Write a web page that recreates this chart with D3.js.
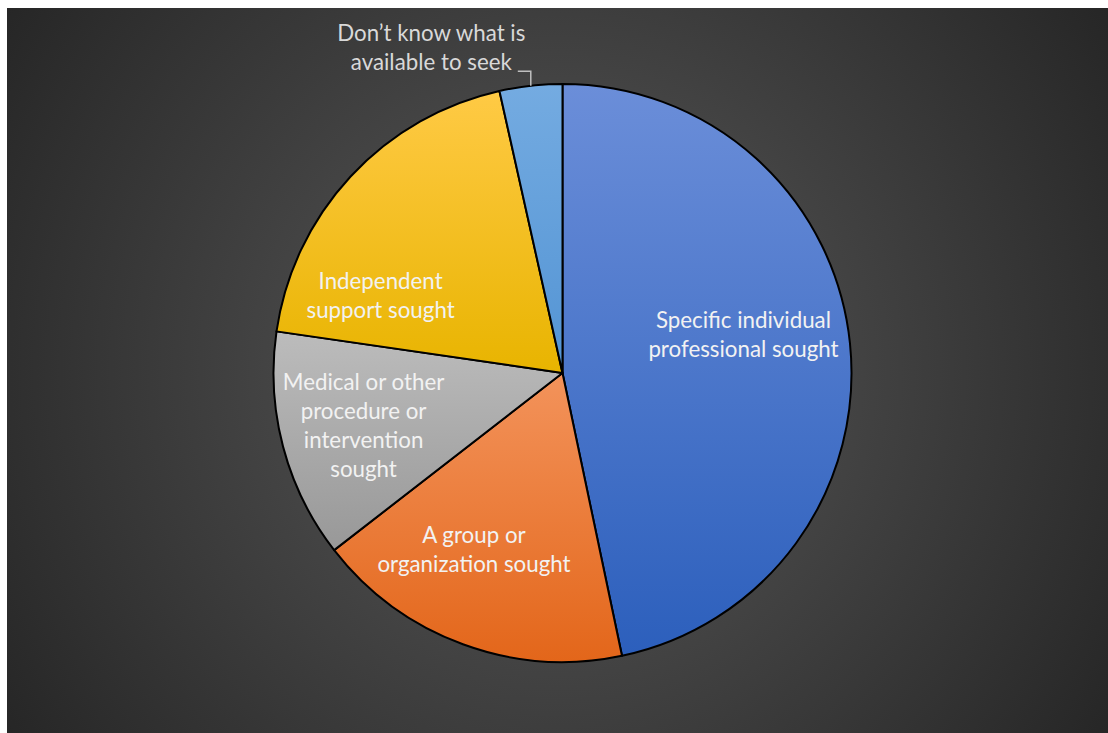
<!DOCTYPE html>
<html>
<head>
<meta charset="utf-8">
<script src="https://cdn.jsdelivr.net/npm/d3@7"></script>
<style>
  html, body { margin: 0; padding: 0; background: #ffffff; }
  svg { display: block; }
</style>
</head>
<body>
<div id="chart"></div>
<script>
// Share of responses by type of help sought (percent)
const categories = [
  "Specific individual professional sought",
  "A group or organization sought",
  "Medical or other procedure or intervention sought",
  "Independent support sought",
  "Don\u2019t know what is available to seek"
];
const values = [46.7, 17.8, 12.8, 19.2, 3.5];

// Wrapped label lines for each slice
const labelLines = [
  ["Specific individual", "professional sought"],
  ["A group or", "organization sought"],
  ["Medical or other", "procedure or", "intervention", "sought"],
  ["Independent", "support sought"],
  ["Don\u2019t know what is", "available to seek"]
];

// Slice gradients, light at the top to dark at the bottom
const sliceTop    = ["#6b8ed9", "#f3935b", "#bcbcbc", "#ffca45", "#74abe1"];
const sliceBottom = ["#2c5fbc", "#e3661a", "#989898", "#e8b400", "#5394d4"];

const W = 1108, H = 733;
const frame = { x: 7, y: 8, w: 1101, h: 725 };
const cx = 562.5, cy = 373, R = 289;
const fontSize = 22.3, lineH = 29;

// Label nudges from the arc centroid (inside labels); the last slice uses a leader
const labelNudge = [[-14.5, -10.4], [-20.8, 0.5], [-8.9, 10.8], [-37.8, 63.8], [0, 0]];

const svg = d3.select("#chart").append("svg")
  .attr("width", W).attr("height", H);

const defs = svg.append("defs");

const bg = defs.append("radialGradient")
  .attr("id", "bg")
  .attr("gradientUnits", "userSpaceOnUse")
  .attr("cx", 557).attr("cy", 370).attr("r", 700);
bg.append("stop").attr("offset", 0).attr("stop-color", "#5a5a5a");
bg.append("stop").attr("offset", 1).attr("stop-color", "#232323");

svg.append("rect")
  .attr("x", frame.x).attr("y", frame.y)
  .attr("width", frame.w).attr("height", frame.h)
  .attr("fill", "url(#bg)");

categories.forEach((c, i) => {
  const g = defs.append("linearGradient")
    .attr("id", "slice" + i)
    .attr("x1", 0).attr("y1", 0).attr("x2", 0).attr("y2", 1);
  g.append("stop").attr("offset", 0).attr("stop-color", sliceTop[i]);
  g.append("stop").attr("offset", 1).attr("stop-color", sliceBottom[i]);
});

const data = categories.map((c, i) => ({ category: c, value: values[i], i }));

const pie = d3.pie().sort(null).value(d => d.value);
const arcs = pie(data);

const arc = d3.arc().innerRadius(0).outerRadius(R);
const labelArc = d3.arc().innerRadius(R * 0.68).outerRadius(R * 0.68);
const edgeArc = d3.arc().innerRadius(R).outerRadius(R);

const plot = svg.append("g").attr("transform", `translate(${cx},${cy})`);

plot.selectAll("path.slice")
  .data(arcs)
  .join("path")
  .attr("class", "slice")
  .attr("d", arc)
  .attr("fill", d => `url(#slice${d.data.i})`)
  .attr("stroke", "#000000")
  .attr("stroke-width", 2)
  .attr("stroke-linejoin", "round");

const font = "Lato, 'Open Sans', sans-serif";

// Inside labels
arcs.slice(0, 4).forEach(d => {
  const [x0, y0] = labelArc.centroid(d);
  const [nx, ny] = labelNudge[d.data.i];
  const lines = labelLines[d.data.i];
  const meanBase = y0 + ny;
  const t = plot.append("text")
    .attr("text-anchor", "middle")
    .attr("font-family", font)
    .attr("font-size", fontSize)
    .attr("fill", "#f2f2f2");
  lines.forEach((ln, k) => {
    t.append("tspan")
      .attr("x", x0 + nx)
      .attr("y", meanBase + (k - (lines.length - 1) / 2) * lineH)
      .text(ln);
  });
});

// Outside label with leader line for the smallest slice
{
  const d = arcs[4];
  const [ex, ey] = edgeArc.centroid(d);
  const elbowY = ey - 14.5, elbowX = ex - 13;
  plot.append("path")
    .attr("d", `M${elbowX},${elbowY}H${ex}V${ey}`)
    .attr("fill", "none")
    .attr("stroke", "#bfbfbf")
    .attr("stroke-width", 1.5);
  const lines = labelLines[4];
  const t = plot.append("text")
    .attr("text-anchor", "middle")
    .attr("font-family", font)
    .attr("font-size", fontSize)
    .attr("fill", "#d9d9d9");
  lines.forEach((ln, k) => {
    t.append("tspan")
      .attr("x", ex - 99.5)
      .attr("y", elbowY - 0.8 - (lines.length - 1 - k) * lineH)
      .text(ln);
  });
}
</script>
</body>
</html>
